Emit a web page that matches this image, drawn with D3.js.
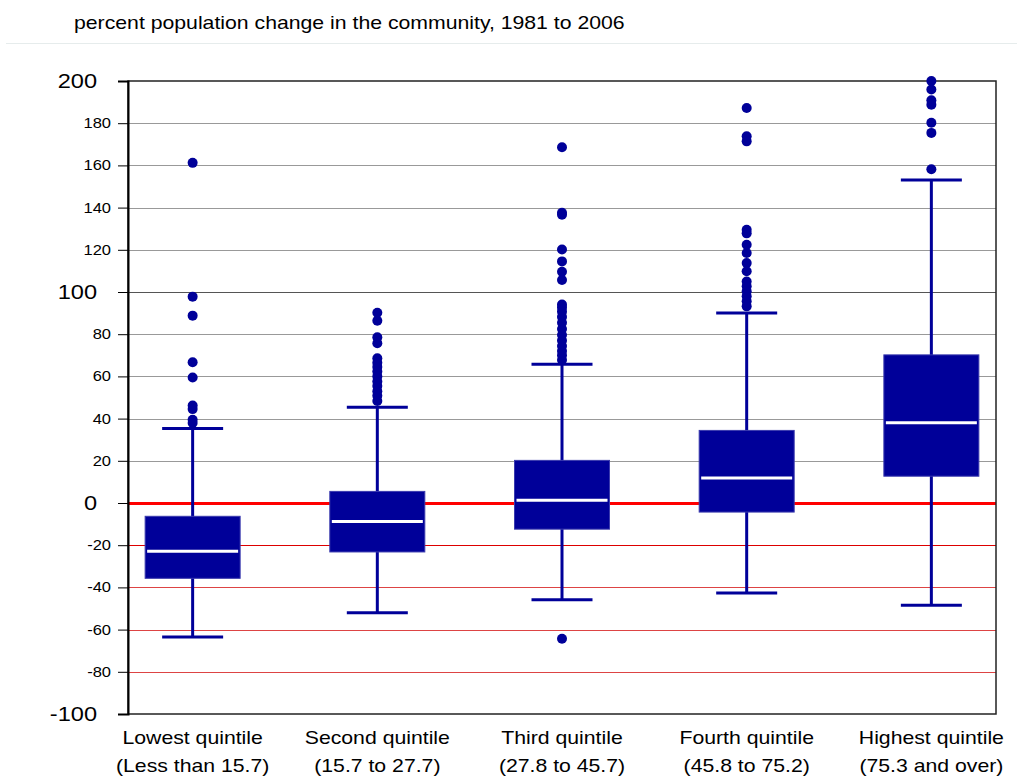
<!DOCTYPE html>
<html>
<head>
<meta charset="utf-8">
<script src="https://cdn.jsdelivr.net/npm/d3@7"></script>
<style>
  html, body { margin: 0; padding: 0; background: #ffffff; }
  svg { display: block; font-family: "Liberation Sans", Arial, sans-serif; }
</style>
</head>
<body>
<svg id="chart" width="1017" height="778"></svg>
<script>
// Quintile groups (percent growth of the community's population)
const categories = ["Lowest quintile", "Second quintile", "Third quintile", "Fourth quintile", "Highest quintile"];
const ranges = ["(Less than 15.7)", "(15.7 to 27.7)", "(27.8 to 45.7)", "(45.8 to 75.2)", "(75.3 and over)"];

// Box-plot summaries, percent change 1981 to 2006
const lowerWhisker = [-63.5, -52.0, -45.9, -42.7, -48.5];
const lowerQuartile = [-35.7, -23.2, -12.4, -4.3, 12.7];
const medians = [-22.9, -8.8, 1.3, 11.8, 38.0];
const upperQuartile = [-6.3, 5.5, 20.2, 34.4, 70.2];
const upperWhisker = [35.3, 45.4, 65.7, 90.0, 153.1];

// Individual communities beyond the whiskers
const outliers = [
  [161.2, 97.8, 88.8, 66.7, 59.5, 46.2, 44.5, 39.4, 37.9],
  [90.2, 86.4, 78.5, 75.7, 68.6, 66.5, 64.5, 62.3, 60.0, 57.6, 55.4, 53.0, 50.8, 48.3],
  [168.6, 137.6, 136.6, 120.1, 114.5, 109.6, 105.7, 94.1, 92.6, 90.8, 88.2, 85.4, 82.5, 79.6, 77.0, 74.4, 72.0, 70.0, 67.8, -64.3],
  [187.2, 173.8, 171.4, 129.5, 127.8, 122.4, 118.5, 113.7, 109.8, 105.0, 102.7, 100.3, 98.0, 95.6, 93.2],
  [200.0, 196.0, 190.9, 188.8, 180.2, 175.4, 158.2]
];

const yTicks = [-100, -80, -60, -40, -20, 0, 20, 40, 60, 80, 100, 120, 140, 160, 180, 200];
const majorTicks = [-100, 0, 100, 200];

const title = "percent population change in the community, 1981 to 2006";

const svg = d3.select("#chart");
const plot = { left: 128, right: 996, top: 81, bottom: 714 };
const boxColor = "#000099";
const sx = 1.18; // horizontal widening of the lettering

const y = d3.scaleLinear().domain([-100, 200]).range([plot.bottom, plot.top]);
const x = d3.scalePoint().domain(categories).range([plot.left, plot.right]).padding(0.35);

// Title and the faint rule beneath it
svg.append("text")
  .attr("transform", `translate(74,29) scale(${sx},1)`)
  .attr("font-size", 18).attr("fill", "#000")
  .text(title);
svg.append("line")
  .attr("x1", 6).attr("x2", 1017).attr("y1", 43.5).attr("y2", 43.5)
  .attr("stroke", "#e6ecec").attr("stroke-width", 1);

// Horizontal grid: grey above zero, red below, a heavy red line at zero
const grid = svg.append("g");
grid.selectAll("line")
  .data(yTicks.filter(d => d > -100 && d < 200))
  .join("line")
  .attr("x1", plot.left).attr("x2", plot.right)
  .attr("y1", d => Math.round(y(d)) + 0.5).attr("y2", d => Math.round(y(d)) + 0.5)
  .attr("stroke", d => d === 0 ? "#ff0000" : d < 0 ? (d === -20 ? "#dd0000" : "#dd4444") : d === 100 ? "#555" : "#999")
  .attr("stroke-width", d => d === 0 ? 3 : 1);

// Frame
svg.append("rect")
  .attr("x", plot.left).attr("y", plot.top)
  .attr("width", plot.right - plot.left).attr("height", plot.bottom - plot.top)
  .attr("fill", "none").attr("stroke", "#222").attr("stroke-width", 1.5);

// Y axis with larger labels on the major values
const yAxis = d3.axisLeft(y).tickValues(yTicks).tickSize(10).tickPadding(6).tickFormat(d => String(d));
const ya = svg.append("g").attr("transform", `translate(${plot.left},0)`).call(yAxis);
ya.select(".domain").attr("stroke", "#000").attr("stroke-width", 2);
ya.selectAll(".tick line").attr("stroke", "#000").attr("stroke-width", 1);
ya.selectAll(".tick text")
  .attr("font-family", "Liberation Sans, Arial, sans-serif")
  .attr("fill", "#000")
  .attr("font-size", d => majorTicks.includes(d) ? 20 : 14)
  .attr("transform", `scale(${sx},1)`)
  .attr("x", d => (majorTicks.includes(d) ? -31 : -17) / sx);

// Boxes, whiskers, medians and outliers
const groups = svg.append("g").selectAll("g")
  .data(categories.map((c, i) => ({
    c, i,
    lo: lowerWhisker[i], q1: lowerQuartile[i], med: medians[i],
    q3: upperQuartile[i], hi: upperWhisker[i], out: outliers[i]
  })))
  .join("g")
  .attr("transform", d => `translate(${x(d.c)},0)`);

const boxW = 95, capW = 61;

groups.append("line")
  .attr("x1", 0).attr("x2", 0)
  .attr("y1", d => y(d.hi)).attr("y2", d => y(d.lo))
  .attr("stroke", boxColor).attr("stroke-width", 3);

groups.append("line")
  .attr("x1", -capW / 2).attr("x2", capW / 2)
  .attr("y1", d => y(d.hi)).attr("y2", d => y(d.hi))
  .attr("stroke", boxColor).attr("stroke-width", 3);
groups.append("line")
  .attr("x1", -capW / 2).attr("x2", capW / 2)
  .attr("y1", d => y(d.lo)).attr("y2", d => y(d.lo))
  .attr("stroke", boxColor).attr("stroke-width", 3);

groups.append("rect")
  .attr("x", -boxW / 2).attr("width", boxW)
  .attr("y", d => y(d.q3)).attr("height", d => y(d.q1) - y(d.q3))
  .attr("fill", boxColor).attr("stroke", "#3a3aae").attr("stroke-width", 1);

groups.append("line")
  .attr("x1", -boxW / 2 + 2).attr("x2", boxW / 2 - 2)
  .attr("y1", d => y(d.med)).attr("y2", d => y(d.med))
  .attr("stroke", "#ffffff").attr("stroke-width", 3);

groups.selectAll("circle")
  .data(d => d.out)
  .join("circle")
  .attr("cx", 0).attr("cy", d => y(d)).attr("r", 5)
  .attr("fill", boxColor);

// Category labels, two lines each
const labels = svg.append("g").selectAll("text")
  .data(categories.map((c, i) => ({ c, r: ranges[i] })))
  .join("text")
  .attr("text-anchor", "middle")
  .attr("font-size", 18).attr("fill", "#000")
  .attr("transform", d => `translate(${x(d.c)},0) scale(${sx},1)`);
labels.append("tspan").attr("x", 0).attr("y", 744).text(d => d.c);
labels.append("tspan").attr("x", 0).attr("y", 772).text(d => d.r);
</script>
</body>
</html>
